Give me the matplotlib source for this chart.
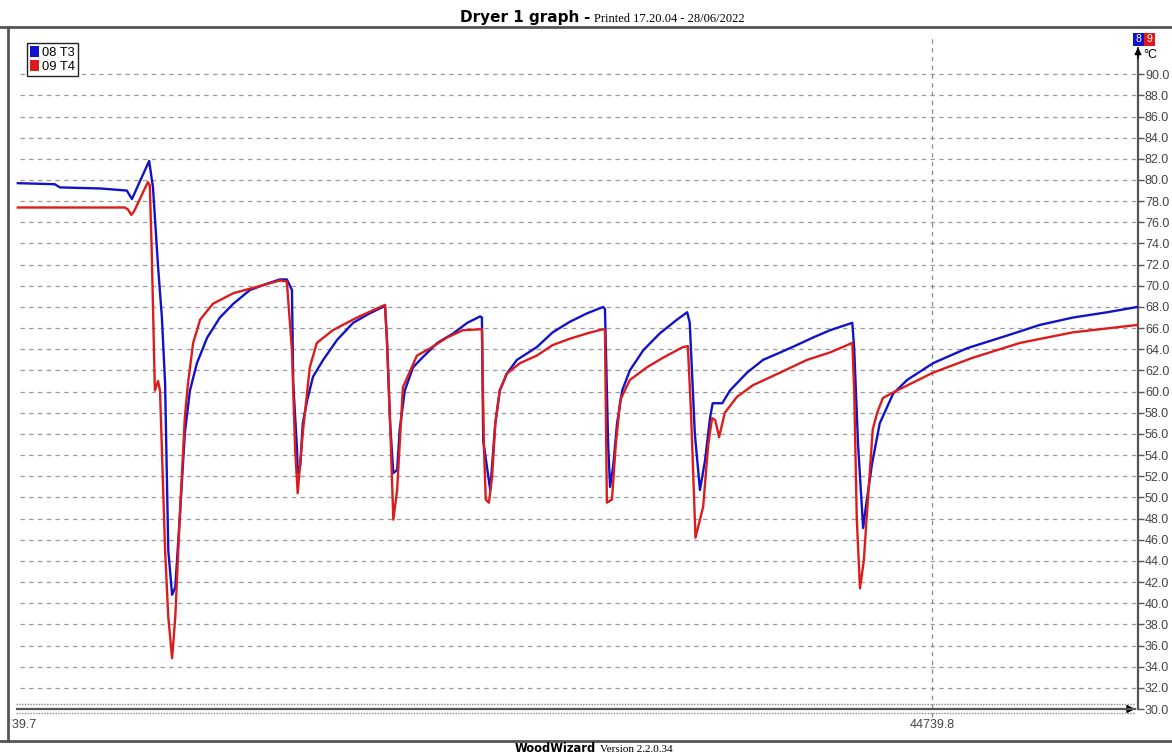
import matplotlib
matplotlib.use("Agg")
import matplotlib.pyplot as plt
import matplotlib.transforms as mtransforms
from matplotlib.lines import Line2D
from matplotlib.patches import Patch, Rectangle
import numpy as np

# ---- data (time in minutes after serial date 44739.7, temperature in °C) ----
series_names = ["08 T3", "09 T4"]
x_origin = 44739.7
x_ticks = [44739.7, 44739.8]
y_ticks = list(np.arange(30, 91, 2))

t3_minutes = [0.6, 6.4, 7.2, 13.5, 17.7, 18.5, 21.2, 21.8, 22.6, 23.2, 23.7, 24.0, 24.2, 24.8,
              25.3, 26.0, 26.8, 27.6, 28.7, 30.3, 32.3, 34.4, 37.0, 39.7, 41.7, 42.8, 43.6,
              43.8, 44.4, 44.5, 44.9, 45.3, 46.0, 46.9, 48.5, 50.7, 53.2, 55.8, 58.2, 58.5,
              59.0, 59.5, 60.1, 60.5, 61.3, 62.6, 64.2, 66.4, 68.9, 71.1, 73.1, 73.4, 73.6,
              74.7, 75.5, 76.2, 77.3, 78.9, 82.0, 84.5, 87.2, 89.9, 92.4, 92.7, 93.2, 93.5,
              94.0, 94.6, 95.4, 96.6, 98.7, 101.3, 104.0, 105.6, 106.0, 106.8, 107.6, 108.4,
              109.2, 109.6, 111.1, 112.3, 115.0, 117.5, 120.2, 122.8, 125.3, 128.0, 131.5,
              131.8, 132.4, 133.2, 133.6, 134.6, 135.8, 137.9, 140.1, 144.2, 149.5, 155.8,
              160.9, 166.1, 171.5, 176.2]
t3_values = [79.7, 79.6, 79.3, 79.2, 79.0, 78.2, 81.8, 79.3, 71.8, 67.0, 60.8, 51.3, 45.0, 40.8,
             41.5, 48.1, 56.1, 60.1, 62.7, 65.1, 67.0, 68.3, 69.6, 70.2, 70.6, 70.6, 69.6,
             60.8, 54.5, 52.3, 53.0, 57.0, 59.2, 61.4, 63.0, 64.9, 66.5, 67.4, 68.1, 64.9,
             57.0, 52.3, 52.6, 56.4, 60.1, 62.3, 63.3, 64.6, 65.5, 66.5, 67.1, 67.0, 55.4,
             50.7, 57.0, 60.1, 61.7, 63.0, 64.2, 65.6, 66.6, 67.4, 68.0, 67.8, 55.0, 51.0,
             53.0, 57.0, 60.1, 62.0, 63.9, 65.5, 66.8, 67.5, 66.5, 56.0, 50.7, 53.5,
             57.6, 58.9, 58.9, 60.1, 61.8, 63.0, 63.7, 64.4, 65.1, 65.8, 66.5,
             64.0, 55.0, 47.1, 49.0, 53.2, 57.0, 59.8, 61.1, 62.7, 64.1, 65.3,
             66.3, 67.0, 67.5, 68.0]

t4_minutes = [0.6, 17.4, 17.9, 18.4, 18.8, 21.0, 21.3, 21.6, 22.1, 22.6, 22.9, 23.2, 23.7, 24.2,
              24.8, 25.3, 26.0, 26.8, 27.3, 28.1, 29.2, 31.2, 34.4, 38.1, 41.7, 42.8, 43.6,
              44.1, 44.5, 45.3, 46.4, 47.5, 50.0, 53.8, 58.2, 58.5, 59.0, 59.5, 60.1, 61.0,
              63.2, 65.3, 67.9, 70.4, 73.4, 73.7, 74.0, 74.5, 75.0, 75.5, 76.2, 77.3, 79.4,
              82.0, 84.5, 87.2, 89.9, 92.4, 92.7, 93.0, 93.8, 94.4, 95.1, 96.6, 99.3, 101.8,
              104.9, 105.7, 106.2, 106.9, 108.1, 108.9, 109.5, 110.0, 110.6, 111.5, 113.4,
              115.9, 120.2, 124.4, 128.0, 131.5, 131.8, 132.2, 132.7, 133.3, 133.8, 134.7,
              135.4, 136.3, 138.5, 144.2, 150.4, 157.8, 166.1, 176.2]
t4_values = [77.4, 77.4, 77.2, 76.7, 77.0, 79.8, 79.5, 73.4, 60.1, 61.0, 60.1, 54.5, 45.0, 38.7,
             34.8, 38.7, 48.1, 57.6, 60.8, 64.6, 66.8, 68.3, 69.3, 69.9, 70.5, 70.4, 63.9,
             54.5, 50.4, 56.1, 62.3, 64.6, 65.8, 67.0, 68.2, 64.9, 57.0, 47.9, 50.7, 60.4,
             63.4, 64.1, 65.1, 65.8, 65.9, 55.0, 49.8, 49.5, 52.0, 57.0, 60.1, 61.7, 62.7,
             63.4, 64.4, 65.0, 65.5, 65.9, 65.8, 49.5, 49.8, 55.0, 59.2, 61.1, 62.3, 63.2,
             64.2, 64.3, 58.0, 46.2, 49.1, 55.0, 57.5, 57.3, 55.7, 58.0, 59.5,
             60.6, 61.8, 63.0, 63.7, 64.6, 60.0, 48.0, 41.4, 44.0, 48.5, 56.4,
             58.0, 59.4, 60.1, 61.8, 63.2, 64.6, 65.6, 66.3]

colors = ["#1212C8", "#DC1C1C"]

# ---- figure ----
W, H = 1172, 756
fig = plt.figure(figsize=(W / 100, H / 100), dpi=100)
fig.patch.set_facecolor("white")

def fx(px):
    return px / W

def fy(py):
    return 1 - py / H

ax = fig.add_axes([fx(14), fy(709), fx(1138) - fx(14), fy(48) - fy(709)])
ax.set_facecolor("none")

x3 = x_origin + np.array(t3_minutes) / 1440.0
x4 = x_origin + np.array(t4_minutes) / 1440.0
ax.plot(x3, t3_values, color=colors[0], lw=1.7, solid_joinstyle="round", zorder=3)
ax.plot(x4, t4_values, color=colors[1], lw=1.7, solid_joinstyle="round", zorder=4)

ax.set_xlim(x_origin, x_origin + 1124 / 9180.0)
ax.set_ylim(30, 30 + 661 / 10.58)

for s in ["top", "left", "bottom"]:
    ax.spines[s].set_visible(False)
ax.spines["right"].set_color("#555555")
ax.spines["right"].set_linewidth(1.6)

ax.yaxis.tick_right()
ax.set_yticks(y_ticks)
ax.set_yticklabels([f"{v:.1f}" for v in y_ticks])
ax.tick_params(axis="y", direction="out", length=4, width=1, color="#555555",
               pad=1, labelsize=9, labelcolor="#444444")
ax.set_xticks(x_ticks)
ax.set_xticklabels([f"{v:.1f}" for v in x_ticks])
ax.tick_params(axis="x", length=0, pad=7, labelsize=9, labelcolor="#444444")
for lab in ax.get_yticklabels() + ax.get_xticklabels():
    lab.set_fontfamily("Liberation Sans")

# horizontal grid
for v in y_ticks[1:]:
    ax.axhline(v, xmin=0.005, color="#9a9a9a", lw=0.9, ls=(0, (3.5, 3.5)), zorder=1)
# vertical grid line
ax.axvline(x_ticks[1], ymin=-0.012, ymax=1.02, color="#8a8a8a", lw=0.9,
           ls=(0, (3.5, 3.5)), clip_on=False, zorder=1)

# x axis (scrollbar-like)
ax.axhline(30, color="#555555", lw=1.6, zorder=5, clip_on=False, xmin=0.003, xmax=0.997)
trans_up = mtransforms.offset_copy(ax.transAxes, fig=fig, y=5, units="dots")
trans_dn = mtransforms.offset_copy(ax.transAxes, fig=fig, y=-4, units="dots")
ax.plot([0.002, 0.997], [0, 0], transform=trans_up, color="#888888", lw=1.0,
        ls=(0, (1, 1)), clip_on=False)
ax.plot([0.002, 0.997], [0, 0], transform=trans_dn, color="#888888", lw=1.0,
        ls=(0, (1, 1)), clip_on=False)
ax.annotate("", xy=(1.0, 0), xytext=(0.99, 0), xycoords="axes fraction",
            arrowprops=dict(arrowstyle="-|>", color="black", lw=1, mutation_scale=12),
            annotation_clip=False)
# y axis arrow
ax.annotate("", xy=(1.0, 1.005), xytext=(1.0, 0.98), xycoords="axes fraction",
            arrowprops=dict(arrowstyle="-|>", color="black", lw=1, mutation_scale=10),
            annotation_clip=False)
fig.text(fx(1143), fy(55), "°C", fontsize=9, family="Liberation Sans",
         ha="left", va="center", color="black")

# clip the first x label at the frame edge (as in the reference)
fig.canvas.draw()
clipbox = mtransforms.Bbox.from_extents(11, 0, W, H)
for lab in ax.get_xticklabels():
    lab.set_clip_box(clipbox)
    lab.set_clip_on(True)

# legend
handles = [Patch(facecolor=c, edgecolor="none") for c in colors]
leg = fig.legend(handles, series_names, loc="upper left",
                 bbox_to_anchor=(fx(27), fy(43)), fancybox=False, edgecolor="#222222",
                 framealpha=1, handlelength=0.75, handleheight=1.0, handletextpad=0.25,
                 borderpad=0.2, labelspacing=0.08, borderaxespad=0,
                 prop={"family": "Liberation Sans", "size": 9.3})
leg.get_frame().set_linewidth(1.0)

# badge
for i, (c, t) in enumerate(zip(colors, ["8", "9"])):
    x0 = 1133 + i * 11
    fig.add_artist(Rectangle((fx(x0), fy(46)), fx(11), 13 / H, transform=fig.transFigure,
                             facecolor=c, edgecolor="none"))
    fig.text(fx(x0 + 5.5), fy(39.5), t, color="white", fontsize=7.5,
             family="Liberation Sans", ha="center", va="center")

# frame
fig.add_artist(Line2D([0, 1], [fy(27), fy(27)], transform=fig.transFigure,
                      color="#555555", lw=2))
fig.add_artist(Line2D([0, 1], [fy(741), fy(741)], transform=fig.transFigure,
                      color="#555555", lw=2))
fig.add_artist(Line2D([fx(8), fx(8)], [fy(27), fy(741)], transform=fig.transFigure,
                      color="#555555", lw=2))

# title
fig.text(fx(460), fy(22), "Dryer 1 graph", fontsize=11, weight="bold",
         family="DejaVu Sans", ha="left", va="baseline")
fig.text(fx(583), fy(22), "-", fontsize=11, weight="bold",
         family="DejaVu Sans", ha="left", va="baseline")
fig.text(fx(594), fy(22), "Printed 17.20.04 - 28/06/2022", fontsize=9,
         family="Liberation Serif", ha="left", va="baseline")

# footer
fig.text(fx(515), fy(752), "WoodWizard", fontsize=8.3, weight="bold",
         family="DejaVu Sans", ha="left", va="baseline")
fig.text(fx(600), fy(752), "Version 2.2.0.34", fontsize=8,
         family="Liberation Serif", ha="left", va="baseline")

fig.savefig("out.png", dpi=100, facecolor="white")
